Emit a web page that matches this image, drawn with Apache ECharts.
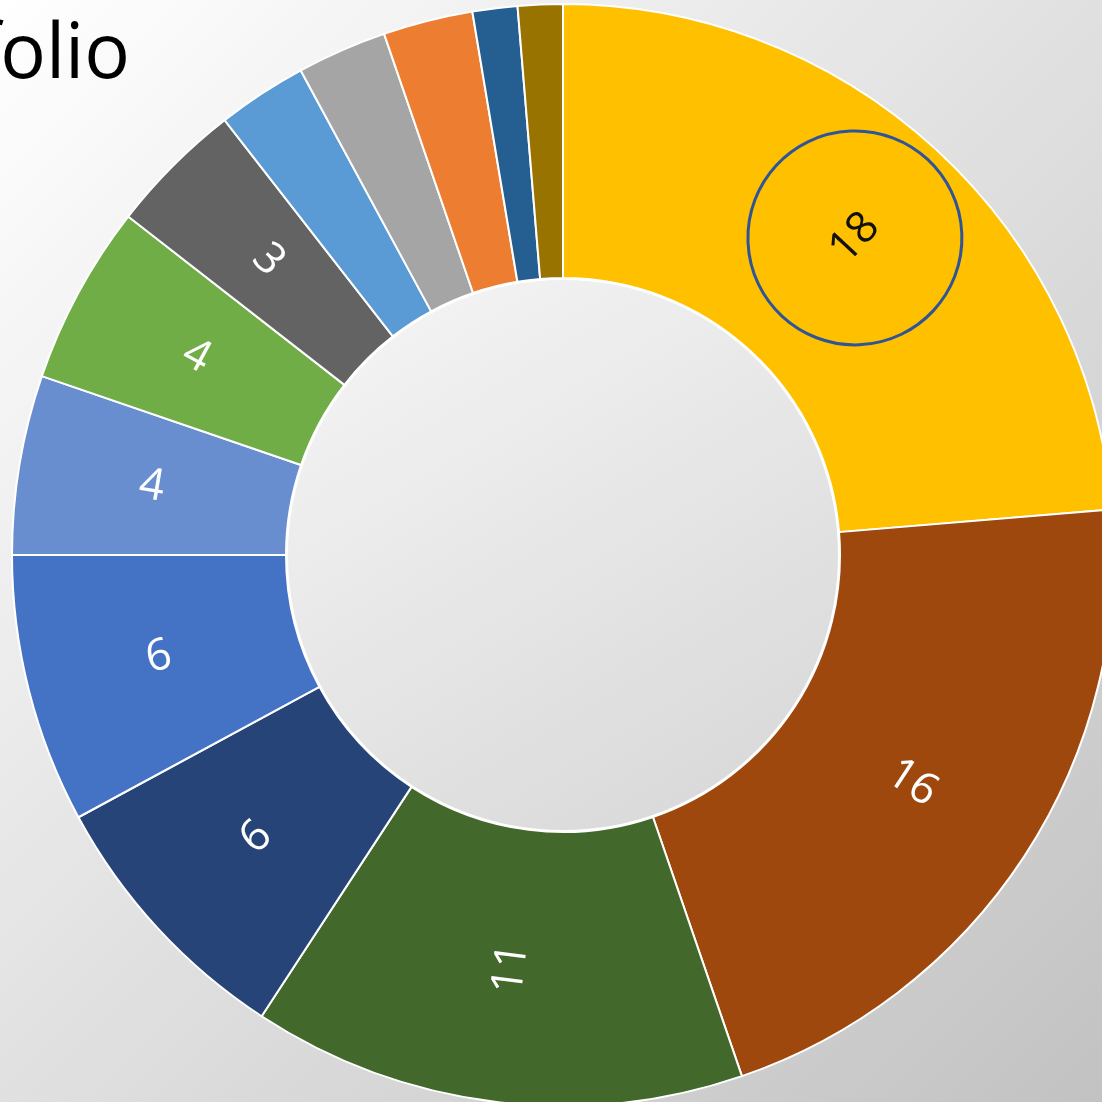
<!DOCTYPE html>
<html>
<head>
<meta charset="utf-8">
<script src="https://cdn.jsdelivr.net/npm/echarts@6/dist/echarts.min.js"></script>
<style>html,body{margin:0;padding:0;background:#fff;}#c{width:1102px;height:1102px;}</style>
</head>
<body>
<div id="c"></div>
<script>
const titleText = 'Portfolio';
const categories = ['Category 1','Category 2','Category 3','Category 4','Category 5','Category 6','Category 7','Category 8','Category 9','Category 10','Category 11','Category 12','Category 13'];
const values = [18, 16, 11, 6, 6, 4, 4, 3, 2, 2, 2, 1, 1];
const colors = ['#FFC000','#9E480E','#43682B','#264478','#4472C4','#698ED0','#70AD47','#636363','#5B9BD5','#A5A5A5','#ED7D31','#255E91','#997300'];
const labelMinValue = 3;
const highlightedIndex = 0;

const chart = echarts.init(document.getElementById('c'), null, {renderer: 'canvas'});
const center = [563, 555];
const font = 'Open Sans';

const option = {
  animation: false,
  backgroundColor: new echarts.graphic.LinearGradient(0, 0, 1, 1, [
    {offset: 0, color: '#ffffff'}, {offset: 1, color: '#c2c2c2'}
  ]),
  graphic: [{
    type: 'text', right: 972, top: 18,
    style: {text: titleText, fontSize: 76, fontFamily: font, fill: '#000'}
  }],
  series: [
    {
      type: 'pie', center: center, radius: [277, 551], startAngle: 90, clockwise: true,
      silent: true, avoidLabelOverlap: false,
      itemStyle: {borderColor: '#ffffff', borderWidth: 2},
      label: {position: 'inside', rotate: 'radial', color: '#ffffff', fontSize: 44, fontFamily: font, formatter: '{c}'},
      labelLine: {show: false},
      data: values.map((v, i) => ({
        name: categories[i], value: v,
        itemStyle: {color: colors[i]},
        label: {show: v >= labelMinValue && i !== highlightedIndex}
      }))
    },
    {
      type: 'pie', center: center, radius: [0, 276], silent: true,
      label: {show: false}, labelLine: {show: false},
      data: [{
        name: 'hole', value: 1,
        itemStyle: {
          color: new echarts.graphic.LinearGradient(0.2, 0, 0.8, 1, [
            {offset: 0, color: '#f4f4f4'}, {offset: 1, color: '#d8d8d8'}
          ]),
          borderColor: '#ffffff', borderWidth: 2
        }
      }]
    },
    {
      type: 'pie', center: center, radius: [305, 551], startAngle: 90, clockwise: true,
      silent: true, avoidLabelOverlap: false, z: 5,
      itemStyle: {color: 'rgba(0,0,0,0)', borderWidth: 0},
      label: {
        position: 'inside', rotate: 'radial', color: '#111111', fontSize: 44, fontFamily: font,
        formatter: '{c}', width: 214, height: 214, lineHeight: 214, align: 'center',
        borderColor: '#2F5597', borderWidth: 3, borderRadius: 107
      },
      labelLine: {show: false},
      data: values.map((v, i) => ({
        name: categories[i], value: v,
        label: {show: i === highlightedIndex}
      }))
    }
  ]
};
chart.setOption(option);
</script>
</body>
</html>
